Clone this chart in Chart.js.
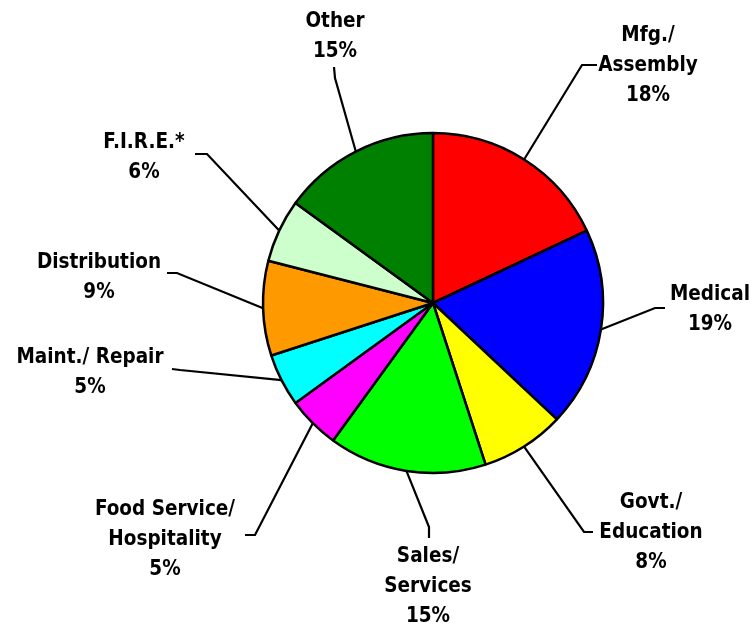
<!DOCTYPE html>
<html>
<head>
<meta charset="utf-8">
<script src="https://cdn.jsdelivr.net/npm/chart.js@4"></script>
<style>
  html, body { margin: 0; padding: 0; background: #fff; }
  canvas { display: block; }
</style>
</head>
<body>
<canvas id="pie-chart" width="753" height="629"></canvas>
<script>
// chart data
var categories = [
  ['Mfg./', 'Assembly'],
  ['Medical'],
  ['Govt./', 'Education'],
  ['Sales/', 'Services'],
  ['Food Service/', 'Hospitality'],
  ['Maint./ Repair'],
  ['Distribution'],
  ['F.I.R.E.*'],
  ['Other']
];
var shares = [18, 19, 8, 15, 5, 5, 9, 6, 15];
var sliceColors = ['#FF0000', '#0000FF', '#FFFF00', '#00FF00', '#FF00FF',
                   '#00FFFF', '#FF9900', '#CCFFCC', '#008000'];

// where each label sits (first baseline) and how its leader line bends
var labelLayout = [
  {x: 648, y: 41,  elbow: [582, 65],  end: [597, 65]},
  {x: 710, y: 300, elbow: [655, 308], end: [665, 308]},
  {x: 651, y: 508, elbow: [584, 532], end: [593, 532]},
  {x: 428, y: 562, elbow: [429, 527], end: [429, 538]},
  {x: 165, y: 515, elbow: [255, 535], end: [245, 535]},
  {x: 90,  y: 363, elbow: [180, 370], end: [172, 369]},
  {x: 99,  y: 268, elbow: [177, 273], end: [167, 273]},
  {x: 144, y: 148, elbow: [207, 154], end: [195, 154]},
  {x: 335, y: 27,  elbow: [335, 78],  end: [334, 67]}
];
var lineGap = 30;

var leaderLabels = {
  id: 'leaderLabels',
  afterDraw: function(chart) {
    var ctx = chart.ctx;
    var arcs = chart.getDatasetMeta(0).data;
    ctx.save();
    ctx.strokeStyle = '#000';
    ctx.lineWidth = 2.2;
    ctx.fillStyle = '#000';
    ctx.font = 'bold 20.5px "DejaVu Sans Condensed", "DejaVu Sans"';
    ctx.textAlign = 'center';
    ctx.textBaseline = 'alphabetic';
    arcs.forEach(function(arc, i) {
      var p = arc.getProps(['x', 'y', 'startAngle', 'endAngle', 'outerRadius'], true);
      var mid = (p.startAngle + p.endAngle) / 2;
      var lay = labelLayout[i];
      ctx.beginPath();
      ctx.moveTo(p.x + Math.cos(mid) * p.outerRadius, p.y + Math.sin(mid) * p.outerRadius);
      ctx.lineTo(lay.elbow[0], lay.elbow[1]);
      ctx.lineTo(lay.end[0], lay.end[1]);
      ctx.stroke();

      var lines = categories[i].concat([shares[i] + '%']);
      lines.forEach(function(txt, k) {
        ctx.fillText(txt, lay.x, lay.y + k * lineGap);
      });
    });
    ctx.restore();
  }
};

var ctx = document.getElementById('pie-chart').getContext('2d');
var pieChart = new Chart(ctx, {
  type: 'pie',
  data: {
    labels: categories,
    datasets: [{
      data: shares,
      backgroundColor: sliceColors,
      borderColor: '#000',
      borderWidth: 2.5
    }]
  },
  options: {
    responsive: false,
    animation: false,
    radius: 170,
    layout: {
      padding: {left: 263, right: 150, top: 133, bottom: 156}
    },
    plugins: {
      legend: {display: false},
      tooltip: {enabled: false}
    }
  },
  plugins: [leaderLabels]
});
</script>
</body>
</html>
